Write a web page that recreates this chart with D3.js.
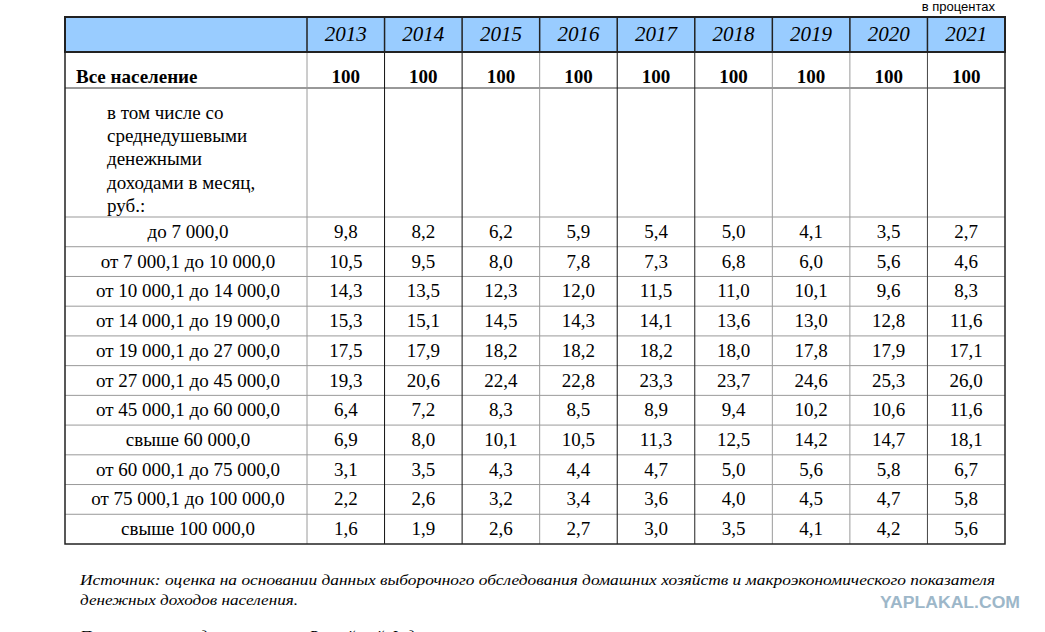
<!DOCTYPE html>
<html>
<head>
<meta charset="utf-8">
<script src="https://cdn.jsdelivr.net/npm/d3@7"></script>
</head>
<body style="margin:0;background:#fff">
<div id="wrap" style="position:relative;width:1045px;height:632px;overflow:hidden"></div>
<script>
// years (columns)
var years = ["2013", "2014", "2015", "2016", "2017", "2018", "2019", "2020", "2021"];
var totalRow = [100, 100, 100, 100, 100, 100, 100, 100, 100];
var subTitle = ["в том числе со", "среднедушевыми", "денежными", "доходами в месяц,", "руб.:"];

// income groups
var groups = ["до 7 000,0", "от 7 000,1 до 10 000,0", "от 10 000,1 до 14 000,0", "от 14 000,1 до 19 000,0",
  "от 19 000,1 до 27 000,0", "от 27 000,1 до 45 000,0", "от 45 000,1 до 60 000,0", "свыше 60 000,0",
  "от 60 000,1 до 75 000,0", "от 75 000,1 до 100 000,0", "свыше 100 000,0"];

var v_7000 = [9.8, 8.2, 6.2, 5.9, 5.4, 5.0, 4.1, 3.5, 2.7];
var v_10000 = [10.5, 9.5, 8.0, 7.8, 7.3, 6.8, 6.0, 5.6, 4.6];
var v_14000 = [14.3, 13.5, 12.3, 12.0, 11.5, 11.0, 10.1, 9.6, 8.3];
var v_19000 = [15.3, 15.1, 14.5, 14.3, 14.1, 13.6, 13.0, 12.8, 11.6];
var v_27000 = [17.5, 17.9, 18.2, 18.2, 18.2, 18.0, 17.8, 17.9, 17.1];
var v_45000 = [19.3, 20.6, 22.4, 22.8, 23.3, 23.7, 24.6, 25.3, 26.0];
var v_60000 = [6.4, 7.2, 8.3, 8.5, 8.9, 9.4, 10.2, 10.6, 11.6];
var v_over60 = [6.9, 8.0, 10.1, 10.5, 11.3, 12.5, 14.2, 14.7, 18.1];
var v_75000 = [3.1, 3.5, 4.3, 4.4, 4.7, 5.0, 5.6, 5.8, 6.7];
var v_100000 = [2.2, 2.6, 3.2, 3.4, 3.6, 4.0, 4.5, 4.7, 5.8];
var v_over100 = [1.6, 1.9, 2.6, 2.7, 3.0, 3.5, 4.1, 4.2, 5.6];

var values = [v_7000, v_10000, v_14000, v_19000, v_27000, v_45000, v_60000, v_over60, v_75000, v_100000, v_over100];

var unitText = "в процентах";
var sourceLines = ["Источник: оценка на основании данных выборочного обследования домашних хозяйств и макроэкономического показателя",
  "денежных доходов населения."];
var noteText = "Показатели приведены в целом по Российской Федерации.";

var SERIF = "Liberation Serif";
var SANS = "Liberation Sans";

var wrap = d3.select("#wrap");
var svg = wrap.append("svg")
  .attr("width", 1045).attr("height", 632)
  .style("position", "absolute").style("left", "0px").style("top", "0px");

var left = 65, right = 1005, labelEnd = 307;
var headTop = 17, headBottom = 52, totalBottom = 88, subBottom = 217, tableBottom = 544;

var x = d3.scaleBand().domain(years).range([labelEnd, right]);
var y = d3.scaleBand().domain(groups).range([subBottom, tableBottom]);
var fmt = function (d) { return d3.format(".1f")(d).replace(".", ","); };

// colour of vertical lines inside the body (after label col, then between years)
var vLineColor = ["#9a9a9a", "#111", "#111", "#9a9a9a", "#111", "#222", "#9a9a9a", "#9a9a9a", "#444"];

// header background
svg.append("rect")
  .attr("x", left).attr("y", headTop)
  .attr("width", right - left).attr("height", headBottom - headTop)
  .attr("fill", "#99ccff");

// horizontal grey lines
var hLines = [totalBottom, subBottom].concat(groups.slice(1).map(function (g) { return y(g); }));
svg.selectAll(".hl").data(hLines).enter().append("line")
  .attr("x1", left).attr("x2", right)
  .attr("y1", function (d) { return d; }).attr("y2", function (d) { return d; })
  .attr("stroke", function (d, i) { return i == 0 ? "#333" : "#999"; })
  .attr("stroke-width", 1);

// vertical lines body
var vPos = years.map(function (yr) { return x(yr); });
svg.selectAll(".vl").data(vPos).enter().append("line")
  .attr("x1", function (d) { return d; }).attr("x2", function (d) { return d; })
  .attr("y1", headBottom).attr("y2", tableBottom)
  .attr("stroke", function (d, i) { return vLineColor[i]; })
  .attr("stroke-width", 1);

// vertical lines header
svg.selectAll(".vh").data(vPos).enter().append("line")
  .attr("x1", function (d) { return d; }).attr("x2", function (d) { return d; })
  .attr("y1", headTop).attr("y2", headBottom)
  .attr("stroke", "#222")
  .attr("stroke-width", 1.5);

// header border + outer border
svg.append("rect")
  .attr("x", left).attr("y", headTop)
  .attr("width", right - left).attr("height", headBottom - headTop)
  .attr("fill", "none").attr("stroke", "#222").attr("stroke-width", 2);
svg.append("rect")
  .attr("x", left).attr("y", headTop)
  .attr("width", right - left).attr("height", tableBottom - headTop)
  .attr("fill", "none").attr("stroke", "#222").attr("stroke-width", 1.5);

// text as html on top of the grid (x, baseline y)
function label(str, px, base, o) {
  o = o || {};
  var fs = o.size || 19;
  var el = wrap.append("div")
    .style("position", "absolute")
    .style("white-space", "nowrap")
    .style("font-family", o.family || SERIF)
    .style("font-size", fs + "px")
    .style("line-height", fs + "px")
    .style("font-style", o.italic ? "italic" : "normal")
    .style("font-weight", o.bold ? "bold" : "normal")
    .style("color", o.color || "#000")
    .style("top", (base - 0.84 * fs) + "px")
    .text(str);
  var w = el.node().getBoundingClientRect().width;
  var sx = o.fit ? o.fit / w : 1;
  var shown = w * sx;
  var lx = o.anchor == "middle" ? px - shown / 2 : (o.anchor == "end" ? px - shown : px);
  el.style("left", lx + "px");
  if (o.fit) el.style("transform-origin", "0 0").style("transform", "scaleX(" + sx + ")");
  return el;
}

// years
years.forEach(function (d) {
  label(d, x(d) + x.bandwidth() / 2, 42, { size: 21, italic: true, anchor: "middle" });
});

// total row
label("Все население", 76, 83, { bold: true });
totalRow.forEach(function (d, i) {
  label(d, x(years[i]) + x.bandwidth() / 2, 83, { bold: true, anchor: "middle" });
});

// subtitle
subTitle.forEach(function (d, i) { label(d, 107, 119 + i * 23.2); });

// group labels and values
groups.forEach(function (g, r) {
  var base = y(g) + y.bandwidth() / 2 + 6;
  label(g, (left + labelEnd) / 2 + 2, base, { anchor: "middle" });
  values[r].forEach(function (v, i) {
    label(fmt(v), x(years[i]) + x.bandwidth() / 2, base, { anchor: "middle" });
  });
});

// unit note
label(unitText, 995, 11, { family: SANS, size: 13, anchor: "end" });

// source
sourceLines.forEach(function (d, i) {
  label(d, 80, 585 + i * 20, { size: 15.5, italic: true, fit: i == 0 ? 915 : 218 });
});
label(noteText, 80, 641, { size: 15.5, italic: true });

// watermark
label("YAPLAKAL.COM", 880, 608, { family: SANS, size: 16, bold: true, color: "#9db7c9", fit: 140 });
</script>
</body>
</html>
